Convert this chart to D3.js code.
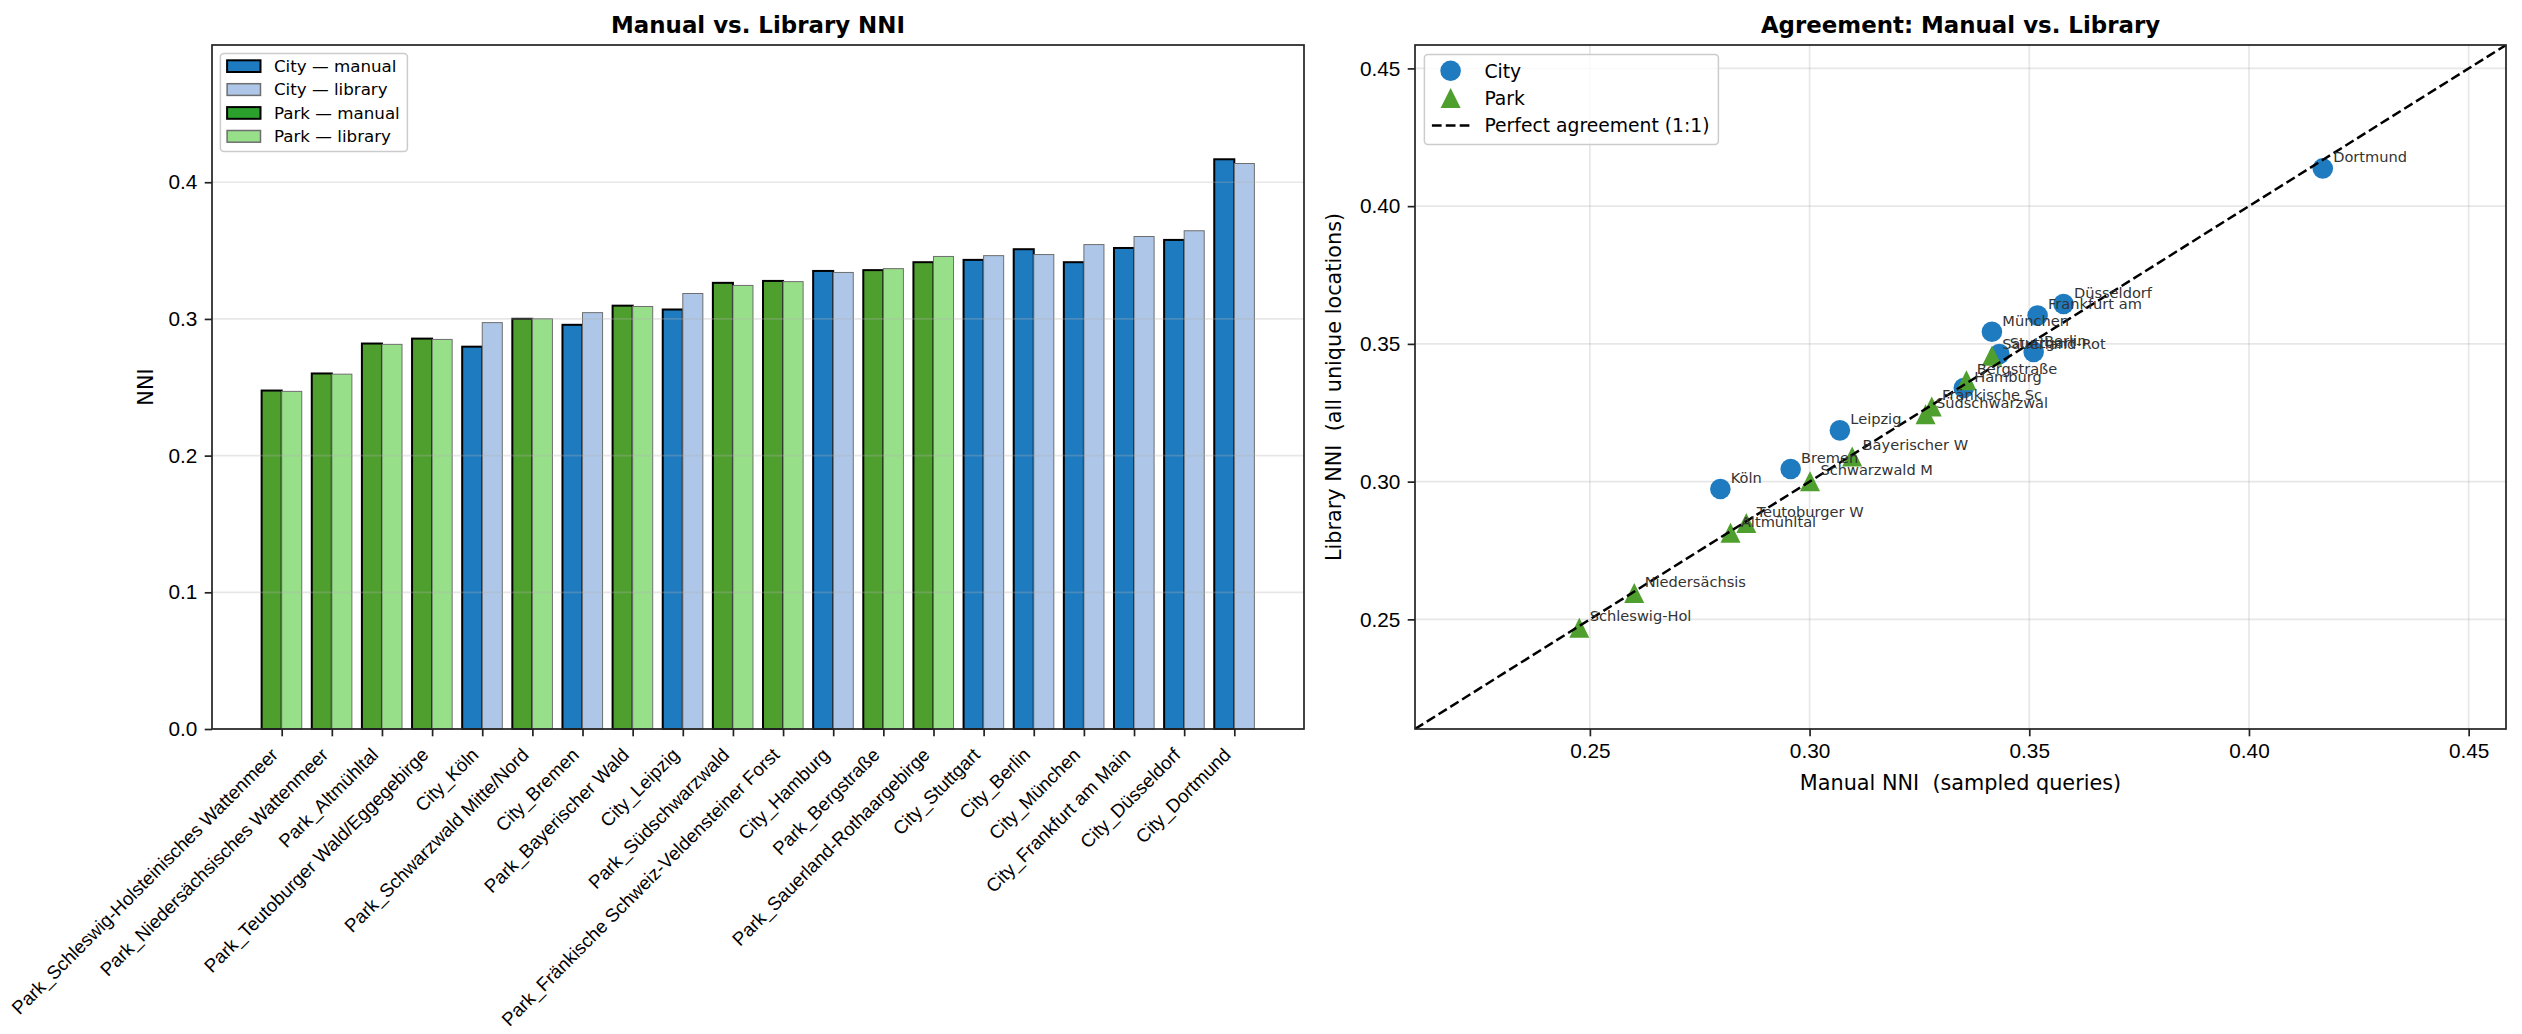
<!DOCTYPE html>
<html>
<head>
<meta charset="utf-8">
<script src="https://cdn.jsdelivr.net/npm/d3@7"></script>
<style>
  body { margin: 0; background: #fff; }
  svg { font-family: 'DejaVu Sans', sans-serif; background: #fff; }
</style>
</head>
<body>
<svg id="fig" width="2522" height="1034"></svg>
<script>
// Locations, sorted by library NNI
const categories = [
    'Park_Schleswig-Holsteinisches Wattenmeer', 'Park_Niedersächsisches Wattenmeer', 'Park_Altmühltal',
    'Park_Teutoburger Wald/Eggegebirge', 'City_Köln', 'Park_Schwarzwald Mitte/Nord', 'City_Bremen',
    'Park_Bayerischer Wald', 'City_Leipzig', 'Park_Südschwarzwald', 'Park_Fränkische Schweiz-Veldensteiner Forst',
    'City_Hamburg', 'Park_Bergstraße', 'Park_Sauerland-Rothaargebirge', 'City_Stuttgart', 'City_Berlin',
    'City_München', 'City_Frankfurt am Main', 'City_Düsseldorf', 'City_Dortmund',
];
const manualNNI = [0.2476, 0.2601, 0.2820, 0.2856, 0.2797, 0.3001, 0.2957, 0.3097, 0.3069, 0.3264,
    0.3278, 0.3351, 0.3357, 0.3415, 0.3432, 0.3510, 0.3415, 0.3519, 0.3578, 0.4168];
const libraryNNI = [0.2470, 0.2596, 0.2814, 0.2850, 0.2973, 0.3001, 0.3046, 0.3091, 0.3186, 0.3245,
    0.3273, 0.3340, 0.3368, 0.3457, 0.3463, 0.3471, 0.3544, 0.3603, 0.3645, 0.4137];

// Tick labels
const barTicks = [0.0, 0.1, 0.2, 0.3, 0.4];
const scatterTicks = [0.25, 0.30, 0.35, 0.40, 0.45];

const barLegend = ['City — manual', 'City — library', 'Park — manual', 'Park — library'];
const scatterLegend = ['City', 'Park', 'Perfect agreement (1:1)'];

const palette = {
    cityManual: '#1f7bc0', cityLibrary: '#aec7e8',
    parkManual: '#4f9f2f', parkLibrary: '#98df8a',
    parkLegend: '#2ca02c',
};

const svg = d3.select('#fig');

// Shared helpers
function styleAxis(g, size) {
    g.select('.domain').remove();
    g.selectAll('.tick line').attr('stroke', '#222').attr('stroke-width', 1.7);
    g.selectAll('.tick text').attr('fill', '#000').style('font-size', `${size}px`);
}

function drawFrame(chart, w, h) {
    chart.append('rect')
      .attr('width', w)
      .attr('height', h)
      .attr('fill', 'none')
      .attr('stroke', '#222')
      .attr('stroke-width', 1.7);
}

function isCity(name) {
    return name.startsWith('City_');
}

class BarChart {
    constructor(svgContainer) {
        this.svg = svgContainer;
        this.init();
    }

    init() {
        const vis = this;

        vis.margin = { top: 45, left: 212 };
        vis.width = 1092;
        vis.height = 684;

        vis.chart = vis.svg.append('g')
          .attr('transform', `translate(${vis.margin.left},${vis.margin.top})`);

        // Bar positions 0..19, each pair spans [i-0.4, i+0.4], plus matplotlib's 5% margins
        vis.xScale = d3.scaleLinear().domain([-1.39, 20.39]).range([0, vis.width]);
        vis.yScale = d3.scaleLinear().domain([0, 0.5004]).range([vis.height, 0]);

        vis.update();
    }

    update() {
        const vis = this;
        const barW = vis.xScale(0.4) - vis.xScale(0);

        const rows = categories.map((name, i) => ({
            name, i, manual: manualNNI[i], library: libraryNNI[i], city: isCity(name),
        }));

        // Manual bars (left of the tick)
        vis.chart.selectAll('.bar-manual')
          .data(rows)
          .join('rect')
          .attr('class', 'bar-manual')
          .attr('x', (d) => vis.xScale(d.i - 0.4))
          .attr('y', (d) => vis.yScale(d.manual))
          .attr('width', barW)
          .attr('height', (d) => vis.height - vis.yScale(d.manual))
          .attr('fill', (d) => (d.city ? palette.cityManual : palette.parkManual))
          .attr('stroke', '#000')
          .attr('stroke-width', 2);

        // Library bars (right of the tick)
        vis.chart.selectAll('.bar-library')
          .data(rows)
          .join('rect')
          .attr('class', 'bar-library')
          .attr('x', (d) => vis.xScale(d.i))
          .attr('y', (d) => vis.yScale(d.library))
          .attr('width', barW)
          .attr('height', (d) => vis.height - vis.yScale(d.library))
          .attr('fill', (d) => (d.city ? palette.cityLibrary : palette.parkLibrary))
          .attr('stroke', '#6e6e6e')
          .attr('stroke-width', 1);

        // Horizontal grid drawn over the bars, semi-transparent
        vis.chart.append('g')
          .selectAll('line')
          .data(barTicks)
          .join('line')
          .attr('x1', 0)
          .attr('x2', vis.width)
          .attr('y1', (d) => vis.yScale(d))
          .attr('y2', (d) => vis.yScale(d))
          .attr('stroke', '#b0b0b0')
          .attr('stroke-opacity', 0.3)
          .attr('stroke-width', 1.7);

        // Axes
        const yAxis = d3.axisLeft(vis.yScale).tickValues(barTicks)
          .tickFormat(d3.format('.1f')).tickSize(7.3).tickPadding(7.3);
        vis.chart.append('g').call(yAxis).call((g) => styleAxis(g, 20.8));

        const xAxis = d3.axisBottom(vis.xScale).tickValues(d3.range(categories.length))
          .tickFormat((i) => categories[i]).tickSize(7.3);
        const xg = vis.chart.append('g')
          .attr('transform', `translate(0,${vis.height})`)
          .call(xAxis)
          .call((g) => styleAxis(g, 18.75));
        // Rotated 45°, right end of the label's box at the tick
        xg.selectAll('.tick text')
          .attr('y', null)
          .attr('dy', null)
          .attr('transform', 'translate(-3,27) rotate(-45)')
          .style('text-anchor', 'end');

        drawFrame(vis.chart, vis.width, vis.height);

        // Title and y label
        vis.chart.append('text')
          .attr('x', vis.width / 2)
          .attr('y', -12.5)
          .attr('text-anchor', 'middle')
          .style('font-size', '22.9px')
          .style('font-weight', 'bold')
          .text('Manual vs. Library NNI');

        vis.chart.append('text')
          .attr('transform', `translate(${153 - vis.margin.left},${vis.height / 2}) rotate(-90)`)
          .attr('text-anchor', 'middle')
          .style('font-size', '20.8px')
          .text('NNI');

        vis.drawLegend();
    }

    drawLegend() {
        const vis = this;
        const fills = [palette.cityManual, palette.cityLibrary, palette.parkLegend, palette.parkLibrary];
        const edges = ['#000', '#6e6e6e', '#000', '#6e6e6e'];

        const lg = vis.chart.append('g').attr('transform', 'translate(8.4,8.4)');
        lg.append('rect')
          .attr('width', 187)
          .attr('height', 98)
          .attr('rx', 3.5)
          .attr('fill', '#fff')
          .attr('fill-opacity', 0.8)
          .attr('stroke', '#cccccc')
          .attr('stroke-width', 1.5);

        barLegend.forEach((label, i) => {
            const cy = 12.7 + i * 23.4;
            lg.append('rect')
              .attr('x', 6.7)
              .attr('y', cy - 5.8)
              .attr('width', 33.4)
              .attr('height', 11.7)
              .attr('fill', fills[i])
              .attr('stroke', edges[i])
              .attr('stroke-width', i % 2 === 0 ? 2 : 1.5);
            lg.append('text')
              .attr('x', 53.5)
              .attr('y', cy + 6)
              .style('font-size', '16.7px')
              .text(label);
        });
    }
}

class ScatterChart {
    constructor(svgContainer) {
        this.svg = svgContainer;
        this.init();
    }

    init() {
        const vis = this;

        vis.margin = { top: 45, left: 1415 };
        vis.width = 1091;
        vis.height = 684;

        vis.chart = vis.svg.append('g')
          .attr('transform', `translate(${vis.margin.left},${vis.margin.top})`);

        vis.xScale = d3.scaleLinear().domain([0.2102, 0.4585]).range([0, vis.width]);
        vis.yScale = d3.scaleLinear().domain([0.2102, 0.4585]).range([vis.height, 0]);

        vis.chart.append('defs').append('clipPath')
          .attr('id', 'clip-scatter')
          .append('rect')
          .attr('width', vis.width)
          .attr('height', vis.height);

        vis.update();
    }

    trianglePath(r) {
        return `M0,${-r}L${r},${r}L${-r},${r}Z`;
    }

    update() {
        const vis = this;

        const points = categories.map((name, i) => ({
            label: name.slice(5, 18),
            manual: manualNNI[i],
            library: libraryNNI[i],
            city: isCity(name),
        }));

        // Grid on both axes
        const grid = vis.chart.append('g');
        grid.selectAll('.gx')
          .data(scatterTicks)
          .join('line')
          .attr('x1', (d) => vis.xScale(d))
          .attr('x2', (d) => vis.xScale(d))
          .attr('y1', 0)
          .attr('y2', vis.height)
          .attr('stroke', '#b0b0b0')
          .attr('stroke-opacity', 0.3)
          .attr('stroke-width', 1.7);
        grid.selectAll('.gy')
          .data(scatterTicks)
          .join('line')
          .attr('y1', (d) => vis.yScale(d))
          .attr('y2', (d) => vis.yScale(d))
          .attr('x1', 0)
          .attr('x2', vis.width)
          .attr('stroke', '#b0b0b0')
          .attr('stroke-opacity', 0.3)
          .attr('stroke-width', 1.7);

        // City dots, then park triangles on top
        vis.chart.selectAll('.dot')
          .data(points.filter((d) => d.city))
          .join('circle')
          .attr('class', 'dot')
          .attr('cx', (d) => vis.xScale(d.manual))
          .attr('cy', (d) => vis.yScale(d.library))
          .attr('r', 10.3)
          .attr('fill', palette.cityManual);

        vis.chart.selectAll('.tri')
          .data(points.filter((d) => !d.city))
          .join('path')
          .attr('class', 'tri')
          .attr('transform', (d) => `translate(${vis.xScale(d.manual)},${vis.yScale(d.library)})`)
          .attr('d', vis.trianglePath(10))
          .attr('fill', palette.parkManual);

        // 1:1 reference line across the whole box
        const dom = vis.xScale.domain();
        vis.chart.append('line')
          .attr('clip-path', 'url(#clip-scatter)')
          .attr('x1', vis.xScale(dom[0]))
          .attr('y1', vis.yScale(dom[0]))
          .attr('x2', vis.xScale(dom[1]))
          .attr('y2', vis.yScale(dom[1]))
          .attr('stroke', '#000')
          .attr('stroke-width', 2.5)
          .attr('stroke-dasharray', '9.7,4.2');

        // Point labels, offset 5pt right / 3pt up
        vis.chart.selectAll('.lbl')
          .data(points)
          .join('text')
          .attr('class', 'lbl')
          .attr('x', (d) => vis.xScale(d.manual) + 10.4)
          .attr('y', (d) => vis.yScale(d.library) - 6.25)
          .attr('fill', '#333')
          .style('font-size', '14.6px')
          .style('white-space', 'pre')
          .text((d) => d.label);

        // Axes
        const yAxis = d3.axisLeft(vis.yScale).tickValues(scatterTicks)
          .tickFormat(d3.format('.2f')).tickSize(7.3).tickPadding(7.3);
        vis.chart.append('g').call(yAxis).call((g) => styleAxis(g, 20.8));

        const xAxis = d3.axisBottom(vis.xScale).tickValues(scatterTicks)
          .tickFormat(d3.format('.2f')).tickSize(7.3).tickPadding(7.3);
        vis.chart.append('g')
          .attr('transform', `translate(0,${vis.height})`)
          .call(xAxis)
          .call((g) => styleAxis(g, 20.8));

        drawFrame(vis.chart, vis.width, vis.height);

        vis.chart.append('text')
          .attr('x', vis.width / 2)
          .attr('y', -12.5)
          .attr('text-anchor', 'middle')
          .style('font-size', '22.9px')
          .style('font-weight', 'bold')
          .text('Agreement: Manual vs. Library');

        vis.chart.append('text')
          .attr('x', vis.width / 2)
          .attr('y', vis.height + 61)
          .attr('text-anchor', 'middle')
          .style('font-size', '20.8px')
          .style('white-space', 'pre')
          .text('Manual NNI  (sampled queries)');

        vis.chart.append('text')
          .attr('transform', `translate(${1341 - vis.margin.left},${vis.height / 2}) rotate(-90)`)
          .attr('text-anchor', 'middle')
          .style('font-size', '20.8px')
          .style('white-space', 'pre')
          .text('Library NNI  (all unique locations)');

        vis.drawLegend();
    }

    drawLegend() {
        const vis = this;
        const lg = vis.chart.append('g').attr('transform', 'translate(9.4,9.4)');

        lg.append('rect')
          .attr('width', 294)
          .attr('height', 90)
          .attr('rx', 3.5)
          .attr('fill', '#fff')
          .attr('fill-opacity', 0.8)
          .attr('stroke', '#cccccc')
          .attr('stroke-width', 1.5);

        const rowY = (i) => 16.4 + i * 27.3;

        lg.append('circle')
          .attr('cx', 26.2)
          .attr('cy', rowY(0))
          .attr('r', 10.3)
          .attr('fill', palette.cityManual);

        lg.append('path')
          .attr('transform', `translate(26.2,${rowY(1)})`)
          .attr('d', vis.trianglePath(10))
          .attr('fill', palette.parkManual);

        lg.append('line')
          .attr('x1', 7.5)
          .attr('x2', 45)
          .attr('y1', rowY(2))
          .attr('y2', rowY(2))
          .attr('stroke', '#000')
          .attr('stroke-width', 2.5)
          .attr('stroke-dasharray', '9.7,4.2');

        scatterLegend.forEach((label, i) => {
            lg.append('text')
              .attr('x', 60)
              .attr('y', rowY(i) + 6.8)
              .style('font-size', '18.75px')
              .text(label);
        });
    }
}

const barChart = new BarChart(svg);
const scatterChart = new ScatterChart(svg);
</script>
</body>
</html>
